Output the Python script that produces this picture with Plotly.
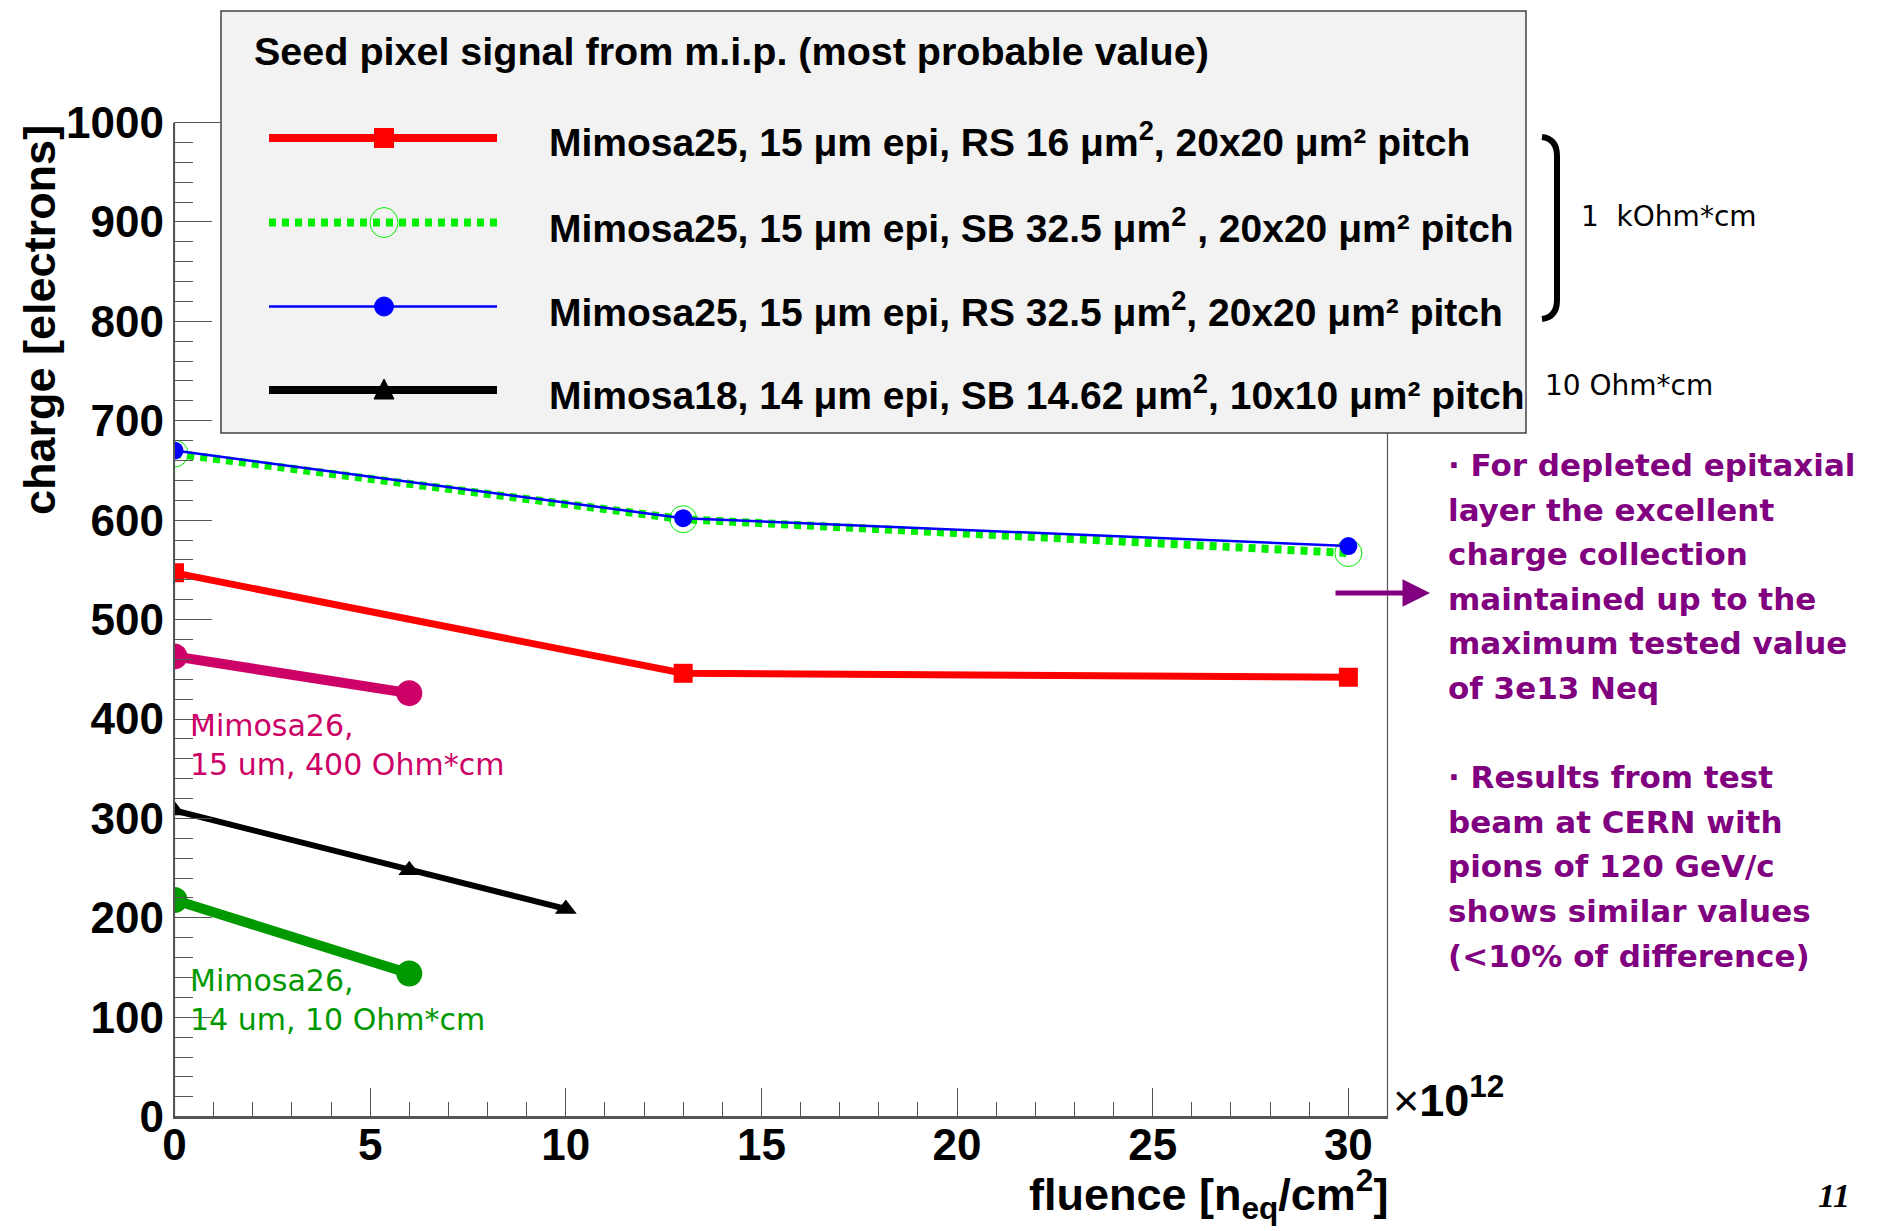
import plotly.graph_objects as go

# ---------------- data ----------------
fluence_m25 = [0, 13, 30]
charge_m25_rs16 = [547, 446, 442]
charge_m25_sb325 = [667, 601, 567]
charge_m25_rs325 = [670, 602, 574]
fluence_m18 = [0, 6, 10]
charge_m18 = [308, 248, 209]
fluence_m26 = [0, 6]
charge_m26_400 = [463, 426]
charge_m26_10 = [218, 144]

x_ticks = [0, 5, 10, 15, 20, 25, 30]
y_ticks = [0, 100, 200, 300, 400, 500, 600, 700, 800, 900, 1000]

legend_title = "Seed pixel signal from m.i.p. (most probable value)"
legend_labels = [
    "Mimosa25, 15 μm epi, RS 16 μm<sup>2</sup>, 20x20 μm² pitch",
    "Mimosa25, 15 μm epi, SB 32.5 μm<sup>2</sup> , 20x20 μm² pitch",
    "Mimosa25, 15 μm epi, RS 32.5 μm<sup>2</sup>, 20x20 μm² pitch",
    "Mimosa18, 14 μm epi, SB 14.62 μm<sup>2</sup>, 10x10 μm² pitch",
]
notes = [
    "· For depleted epitaxial",
    "layer the excellent",
    "charge collection",
    "maintained up to the",
    "maximum tested value",
    "of 3e13 Neq",
    "",
    "· Results from test",
    "beam at CERN with",
    "pions of 120 GeV/c",
    "shows similar values",
    "(<10% of difference)",
]

# ---------------- geometry helpers ----------------
W, H = 1880, 1231
def px(x):
    return x / W
def py(y):
    return 1 - y / H

AX_L, AX_R, AX_T, AX_B = 174.5, 1387.5, 122.5, 1116.7

RED = "#ff0000"
BLUE = "#0000ff"
LGREEN = "#00ee00"
MAG = "#cc0066"
DGREEN = "#009900"
PURPLE = "#800080"
AXC = "#555555"
HELV = "Liberation Sans, Arial, sans-serif"
COMIC = "DejaVu Sans, sans-serif"

fig = go.Figure()

# ---------------- data traces ----------------
fig.add_trace(go.Scatter(x=fluence_m25, y=charge_m25_rs16, mode="lines+markers",
                         line=dict(color=RED, width=7),
                         marker=dict(symbol="square", size=19, color=RED),
                         showlegend=False))
fig.add_trace(go.Scatter(x=fluence_m25, y=charge_m25_sb325, mode="lines+markers",
                         line=dict(color=LGREEN, width=8, dash="7px,6px"),
                         marker=dict(symbol="circle-open", size=27, color=LGREEN, line=dict(width=1)),
                         showlegend=False))
fig.add_trace(go.Scatter(x=fluence_m25, y=charge_m25_rs325, mode="lines+markers",
                         line=dict(color=BLUE, width=2.5),
                         marker=dict(symbol="circle", size=18, color=BLUE),
                         showlegend=False))
fig.add_trace(go.Scatter(x=fluence_m18, y=charge_m18, mode="lines+markers",
                         line=dict(color="black", width=6),
                         marker=dict(symbol="triangle-up", size=19, color="black"),
                         showlegend=False))
fig.add_trace(go.Scatter(x=fluence_m26, y=charge_m26_400, mode="lines+markers",
                         line=dict(color=MAG, width=10),
                         marker=dict(symbol="circle", size=26, color=MAG),
                         showlegend=False))
fig.add_trace(go.Scatter(x=fluence_m26, y=charge_m26_10, mode="lines+markers",
                         line=dict(color=DGREEN, width=10),
                         marker=dict(symbol="circle", size=26, color=DGREEN),
                         showlegend=False))

# ---------------- shapes ----------------
shapes = []
shapes.append(dict(type="rect", xref="paper", yref="paper",
                   x0=px(AX_L), x1=px(AX_R), y0=py(AX_B), y1=py(AX_T),
                   line=dict(color=AXC, width=1.2), layer="above"))
LB = dict(x0=221, x1=1526, y0=11, y1=433)
shapes.append(dict(type="rect", xref="paper", yref="paper",
                   x0=px(LB["x0"]), x1=px(LB["x1"]), y0=py(LB["y1"]), y1=py(LB["y0"]),
                   fillcolor="#f2f2f2", line=dict(color="#444444", width=1.5), layer="above"))

rows_y = [138, 222.5, 306.5, 390]
samp_x0, samp_x1, samp_xm = 269, 497, 384
styles = [
    dict(color=RED, width=8, dash="solid"),
    dict(color=LGREEN, width=8, dash="7px,6px"),
    dict(color=BLUE, width=2.5, dash="solid"),
    dict(color="black", width=8, dash="solid"),
]
for yy, st in zip(rows_y, styles):
    shapes.append(dict(type="line", xref="paper", yref="paper",
                       x0=px(samp_x0), x1=px(samp_x1), y0=py(yy), y1=py(yy),
                       line=st, layer="above"))
r = 10
shapes.append(dict(type="rect", xref="paper", yref="paper",
                   x0=px(samp_xm - r), x1=px(samp_xm + r), y0=py(rows_y[0] + r), y1=py(rows_y[0] - r),
                   fillcolor=RED, line=dict(width=0), layer="above"))
r = 14
shapes.append(dict(type="circle", xref="paper", yref="paper",
                   x0=px(samp_xm - r), x1=px(samp_xm + r), y0=py(rows_y[1] + r + 1), y1=py(rows_y[1] - r - 1),
                   fillcolor="rgba(0,0,0,0)", line=dict(color=LGREEN, width=1), layer="above"))
r = 9.5
shapes.append(dict(type="circle", xref="paper", yref="paper",
                   x0=px(samp_xm - r), x1=px(samp_xm + r), y0=py(rows_y[2] + r), y1=py(rows_y[2] - r),
                   fillcolor=BLUE, line=dict(color=BLUE, width=1), layer="above"))
ty = rows_y[3]
tri = "M {} {} L {} {} L {} {} Z".format(px(samp_xm - 10), py(ty + 9), px(samp_xm + 10), py(ty + 9),
                                          px(samp_xm), py(ty - 11))
shapes.append(dict(type="path", xref="paper", yref="paper", path=tri,
                   fillcolor="black", line=dict(color="black", width=1), layer="above"))

br = "M {} {} Q {} {} {} {} L {} {} Q {} {} {} {}".format(
    px(1542), py(137), px(1557), py(139), px(1557), py(156),
    px(1557), py(300), px(1557), py(317), px(1542), py(319))
shapes.append(dict(type="path", xref="paper", yref="paper", path=br,
                   line=dict(color="black", width=6), layer="above"))

# ---------------- annotations ----------------
ann = []
ann.append(dict(text=legend_title, x=px(252), y=py(51), xref="paper", yref="paper",
                xanchor="left", yanchor="middle", showarrow=False,
                font=dict(family=HELV, size=39.5, color="black", weight="bold")))
text_cy = [140, 225, 309, 393]
for t, yy in zip(legend_labels, text_cy):
    ann.append(dict(text=t, x=px(547), y=py(yy), xref="paper", yref="paper",
                    xanchor="left", yanchor="middle", showarrow=False,
                    font=dict(family=HELV, size=39, color="black", weight="bold")))

ann.append(dict(text="1  kOhm*cm", x=px(1579), y=py(217), xref="paper", yref="paper",
                xanchor="left", yanchor="middle", showarrow=False,
                font=dict(family=COMIC, size=28, color="black")))
ann.append(dict(text="10 Ohm*cm", x=px(1543), y=py(385), xref="paper", yref="paper",
                xanchor="left", yanchor="middle", showarrow=False,
                font=dict(family=COMIC, size=28, color="black")))

note_y0, note_dy = 465, 44.6
for i, t in enumerate(notes):
    if not t:
        continue
    ann.append(dict(text=t.replace("<", "&lt;"), x=px(1446), y=py(note_y0 + i * note_dy),
                    xref="paper", yref="paper", xanchor="left", yanchor="middle",
                    showarrow=False,
                    font=dict(family=COMIC, size=31, color=PURPLE, weight="bold")))

ann.append(dict(text="", x=px(1430), y=py(593), xref="paper", yref="paper",
                ax=-96, ay=0, showarrow=True, arrowhead=2, arrowsize=1.1,
                arrowwidth=5, arrowcolor=PURPLE))

ann.append(dict(text="Mimosa26,<br>15 um, 400 Ohm*cm", x=px(188), y=py(706),
                xref="paper", yref="paper", xanchor="left", yanchor="top", align="left",
                showarrow=False, font=dict(family=COMIC, size=30, color=MAG)))
ann.append(dict(text="Mimosa26,<br>14 um, 10 Ohm*cm", x=px(188), y=py(961),
                xref="paper", yref="paper", xanchor="left", yanchor="top", align="left",
                showarrow=False, font=dict(family=COMIC, size=30, color=DGREEN)))

ann.append(dict(text="charge [electrons]", x=px(39), y=py(320), xref="paper", yref="paper",
                textangle=-90, xanchor="center", yanchor="middle", showarrow=False,
                font=dict(family=HELV, size=45, color="black", weight="bold")))
ann.append(dict(text="fluence [n<sub>eq</sub>/cm<sup>2</sup>]", x=px(1390), y=py(1194),
                xref="paper", yref="paper", xanchor="right", yanchor="middle", showarrow=False,
                font=dict(family=HELV, size=45, color="black", weight="bold")))
ann.append(dict(text="×<b>10</b><sup><b>12</b></sup>", x=px(1391), y=py(1097),
                xref="paper", yref="paper", xanchor="left", yanchor="middle", showarrow=False,
                font=dict(family=HELV, size=45, color="black")))
ann.append(dict(text="<i><b>11</b></i>", x=px(1852), y=py(1195), xref="paper", yref="paper",
                xanchor="right", yanchor="middle", showarrow=False,
                font=dict(family="Liberation Serif, serif", size=34, color="black")))

fig.update_layout(
    width=W, height=H,
    margin=dict(l=0, r=0, t=0, b=0),
    paper_bgcolor="white", plot_bgcolor="white",
    showlegend=False,
    shapes=shapes,
    annotations=ann,
    xaxis=dict(domain=[px(AX_L), px(AX_R)], range=[0, 31], showgrid=False, zeroline=False,
               showline=True, linecolor=AXC, linewidth=1.5,
               tickvals=x_ticks, ticks="inside", ticklen=29, tickwidth=1.2, tickcolor=AXC,
               minor=dict(dtick=1, ticks="inside", ticklen=15, tickwidth=1.2, tickcolor=AXC),
               tickfont=dict(family=HELV, size=44, color="black", weight="bold"),
               ticklabelstandoff=-11,
               automargin=False, fixedrange=True),
    yaxis=dict(domain=[py(AX_B), py(AX_T)], range=[0, 1000], showgrid=False, zeroline=False,
               showline=True, linecolor=AXC, linewidth=1.5,
               tickvals=y_ticks, ticks="inside", ticklen=38, tickwidth=1.2, tickcolor=AXC,
               minor=dict(dtick=20, ticks="inside", ticklen=19, tickwidth=1.2, tickcolor=AXC),
               tickfont=dict(family=HELV, size=44, color="black", weight="bold"),
               automargin=False, fixedrange=True),
)

fig.write_html("out.html", config={"displayModeBar": False},
               post_script="document.body.style.margin='0';document.body.style.overflow='hidden';")
